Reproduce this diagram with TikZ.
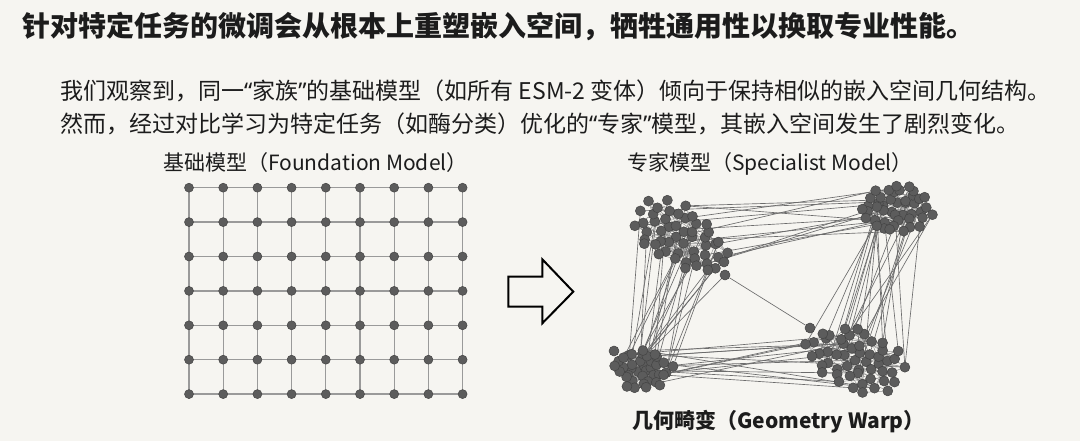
\documentclass[tikz,border=0pt]{standalone}
\usepackage{fontspec}
\setmainfont{Noto Sans CJK SC}
\newfontfamily\quotefont{Noto Sans}
\definecolor{paper}{HTML}{F6F5F1}
\definecolor{ink}{HTML}{1C1C1C}
\definecolor{dotgray}{HTML}{5C5C5C}
\definecolor{dotedge}{HTML}{444444}
\definecolor{gridgray}{HTML}{9A9A9A}
\definecolor{linkgray}{HTML}{6C6C6C}
\definecolor{webgray}{HTML}{8C8C8C}
\pgfdeclarelayer{paperlayer}
\pgfdeclarelayer{edges}
\pgfsetlayers{paperlayer,edges,main}

\tikzset{
  dot/.style={circle, fill=dotgray, draw=dotedge, line width=0.5pt, inner sep=0pt, minimum size=9pt},
  bead/.style={dot, minimum size=10pt},
  gridline/.style={draw=gridgray, line width=1.3pt},
  link/.style={draw=linkgray, line width=0.65pt},
  web/.style={draw=webgray, line width=0.45pt},
  label/.style={anchor=west, inner sep=0pt, text=ink},
}
\newcommand\openq{{\quotefont “}}
\newcommand\closeq{{\quotefont ”}}

% cluster: name, count, cx, cy, rx, ry, tilt
\newcommand\blob[7]{%
  \foreach \k in {1,...,#2}{
    \pgfmathsetmacro\ang{137.508*\k}
    \pgfmathsetmacro\rad{sqrt((\k-0.5)/#2)}
    \pgfmathsetmacro\du{#5*\rad*cos(\ang)+3*rand}
    \pgfmathsetmacro\dv{#6*\rad*sin(\ang)+3*rand}
    \node[bead] (#1\k) at ({#3+\du*cos(#7)-\dv*sin(#7)},{#4+\du*sin(#7)+\dv*cos(#7)}) {};
  }%
}
% random links: from, count, to, count, how many, style
\newcommand\wire[6]{%
  \foreach \k in {1,...,#5}{
    \pgfmathtruncatemacro\p{random(1,#2)}
    \pgfmathtruncatemacro\q{random(1,#4)}
    \draw[#6] (#1\p) -- (#3\q);
  }%
}

\begin{document}
\begin{tikzpicture}[x=1pt, y=-1pt]
\pgfmathsetseed{11}
\useasboundingbox (0,0) rectangle (1080,441);
\begin{pgfonlayer}{paperlayer}
  \fill[paper] (0,0) rectangle (1080,441);
\end{pgfonlayer}

\node[label] (title) at (22,27) {\fontsize{28}{32}\selectfont\bfseries 针对特定任务的微调会从根本上重塑嵌入空间，牺牲通用性以换取专业性能。};
\node[label] (line1) at (60,91) {\fontsize{23}{26}\selectfont 我们观察到，同一\openq 家族\closeq 的基础模型（如所有 ESM-2 变体）倾向于保持相似的嵌入空间几何结构。};
\node[label] (line2) at (60,124) {\fontsize{23}{26}\selectfont 然而，经过对比学习为特定任务（如酶分类）优化的\openq 专家\closeq 模型，其嵌入空间发生了剧烈变化。};

\node[label] (found) at (163,163) {\fontsize{21}{25}\selectfont 基础模型（Foundation Model）};
\node[label] (spec) at (627,164) {\fontsize{21}{25}\selectfont 专家模型（Specialist Model）};
\node[label] (warp) at (632,422) {\fontsize{21}{25}\selectfont\bfseries 几何畸变（Geometry Warp）};

\foreach \i in {0,...,8}
  \foreach \j in {0,...,6}
    \node[dot] (g-\i-\j) at ({189+34.2*\i},{187.7+34.4*\j}) {};
\begin{pgfonlayer}{edges}
\foreach \i [count=\n] in {0,...,7}
  \foreach \j in {0,...,6}
    \draw[gridline] (g-\i-\j.center) -- (g-\n-\j.center);
\foreach \j [count=\n] in {0,...,5}
  \foreach \i in {0,...,8}
    \draw[gridline] (g-\i-\j.center) -- (g-\i-\n.center);
\end{pgfonlayer}

\draw[line width=2pt, line join=miter] (508.3,276.7) -- (542.3,276.7) -- (542.3,259.3) -- (573.3,291.7)
  -- (542.3,323.3) -- (542.3,306.7) -- (508.3,306.7) -- cycle;

\blob{A}{50}{679}{236}{54}{30}{30}
\blob{B}{44}{896}{209}{36}{25}{0}
\blob{C}{38}{643}{369}{29}{21}{0}
\blob{D}{52}{856}{360}{51}{32}{22}
\node[bead] (A51) at (724,262) {};
\node[bead] (A52) at (725,275) {};
\node[bead] (C39) at (614,351) {};
\node[bead] (D53) at (810,328) {};

\begin{pgfonlayer}{edges}
\wire{A}{50}{A}{50}{90}{web}
\wire{B}{44}{B}{44}{70}{web}
\wire{C}{39}{C}{39}{60}{web}
\wire{D}{52}{D}{52}{90}{web}
\wire{A}{52}{B}{44}{14}{link}
\wire{A}{52}{C}{39}{22}{link}
\wire{B}{44}{D}{53}{22}{link}
\wire{C}{39}{D}{53}{16}{link}
\draw[link] (A52) -- (D53);
\draw[link] (A52) -- (C7);
\end{pgfonlayer}
\end{tikzpicture}
\end{document}
